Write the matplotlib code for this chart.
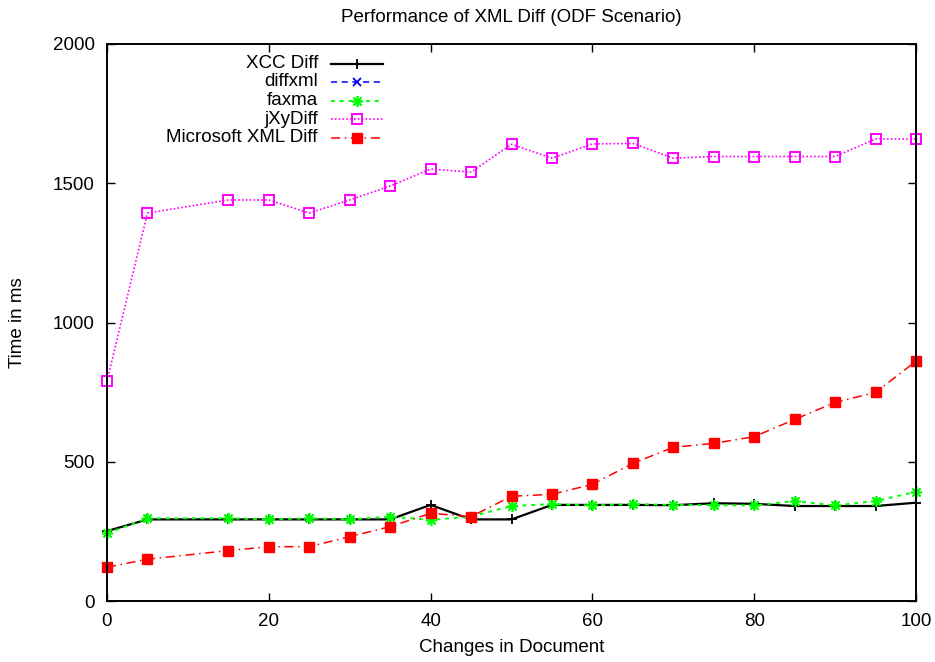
#!/usr/bin/env python3
"""Performance of XML Diff (ODF Scenario), gnuplot-style line chart."""

import matplotlib

matplotlib.use("Agg")
import matplotlib.pyplot as plt
from matplotlib.lines import Line2D

CHANGES = [0, 5, 15, 20, 25, 30, 35, 40, 45, 50, 55, 60, 65, 70, 75, 80, 85, 90, 95, 100]

XCC_DIFF = [251, 293, 293, 293, 293, 293, 293, 345, 293, 293, 345, 345, 345, 344, 351, 349,
            341, 341, 341, 353]
DIFFXML: list[float] = []  # no data points visible in the chart
FAXMA = [243, 297, 297, 293, 297, 293, 303, 291, 303, 341, 348, 343, 348, 345, 344, 343,
         359, 343, 359, 392]
JXYDIFF = [790, 1393, 1440, 1440, 1393, 1440, 1490, 1551, 1540, 1640, 1590, 1641, 1643, 1590,
           1596, 1596, 1596, 1596, 1659, 1659]
MS_XML_DIFF = [121, 150, 181, 195, 195, 231, 267, 315, 303, 376, 383, 419, 494, 552, 566, 590,
               652, 713, 749, 861]

X_TICKS = [0, 20, 40, 60, 80, 100]
Y_TICKS = [0, 500, 1000, 1500, 2000]

W, H = 935, 662

SERIES = [
    ("XCC Diff", XCC_DIFF, dict(color="black", lw=1.6, ls="-", marker="+", ms=7, mew=1.3)),
    ("diffxml", DIFFXML, dict(color="#0000ff", lw=1.1, ls=(0, (4, 3)), marker="x", ms=6,
                              mew=1.3)),
    ("faxma", FAXMA, dict(color="#00ff00", lw=1.4, ls=(0, (2, 2.5)), marker=(8, 2, 0), ms=8,
                          mew=1.2)),
    ("jXyDiff", JXYDIFF, dict(color="#ff00ff", lw=1.2, ls=(0, (1, 1.3)), marker="s", ms=6.5,
                              mfc="none", mew=1.4)),
    ("Microsoft XML Diff", MS_XML_DIFF, dict(color="#ff0000", lw=1.1, ls=(0, (6, 3, 1, 3)),
                                             marker="s", ms=7)),
]


def setup_style() -> None:
    plt.rcParams.update(
        {
            "font.family": ["Liberation Sans", "DejaVu Sans"],
            "font.size": 13.5,
            "axes.linewidth": 1.4,
            "xtick.direction": "in",
            "ytick.direction": "in",
            "xtick.top": True,
            "ytick.right": True,
            "xtick.major.size": 6,
            "ytick.major.size": 6,
            "xtick.major.width": 1.0,
            "ytick.major.width": 1.0,
            "xtick.major.pad": 8.5,
            "ytick.major.pad": 9,
        }
    )


def draw_key(fig) -> None:
    # gnuplot-style key: right-aligned text, then a line sample with the marker in the middle
    rows_y = [63.5, 82, 100.5, 119, 137.5]
    for (label, _, style), y in zip(SERIES, rows_y):
        fy = 1 - y / H
        fig.text(318 / W, fy, label, ha="right", va="center", fontsize=13.5)
        line_style = {k: v for k, v in style.items() if k in ("color", "lw", "ls")}
        fig.add_artist(Line2D([331 / W, 383 / W], [fy, fy], transform=fig.transFigure,
                              **line_style))
        mark_style = {k: v for k, v in style.items() if k not in ("lw", "ls")}
        fig.add_artist(Line2D([357 / W], [fy], transform=fig.transFigure, ls="none",
                              **mark_style))


def main() -> None:
    setup_style()
    fig = plt.figure(figsize=(W / 100, H / 100), dpi=100)
    ax = fig.add_axes([107 / W, 1 - 601 / H, (916 - 107) / W, (601 - 44) / H])

    for label, values, style in SERIES:
        ax.plot(CHANGES[: len(values)], values, label=label, clip_on=False, **style)

    ax.set_xlim(0, 100)
    ax.set_ylim(0, 2000)
    ax.set_xticks(X_TICKS)
    ax.set_yticks(Y_TICKS)

    ax.set_xlabel("Changes in Document", va="center")
    ax.xaxis.set_label_coords(0.5, (601 - 648) / (601 - 44))
    ax.set_ylabel("Time in ms", va="center")
    ax.yaxis.set_label_coords((18 - 107) / (916 - 107), 0.5)
    fig.text(511.5 / W, 1 - 17 / H, "Performance of XML Diff (ODF Scenario)", ha="center",
             va="center", fontsize=13.5)

    draw_key(fig)
    fig.savefig("out.png", dpi=100)


if __name__ == "__main__":
    main()
